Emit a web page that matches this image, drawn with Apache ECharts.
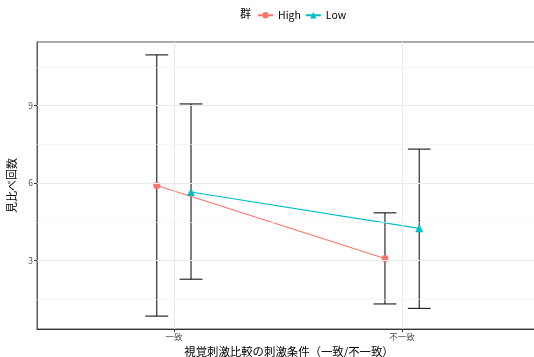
<!DOCTYPE html>
<html><head><meta charset="utf-8">
<script src="https://cdn.jsdelivr.net/npm/echarts@6/dist/echarts.min.js"></script>
<style>html,body{margin:0;padding:0;background:#fff}#c{width:534px;height:357px}</style>
</head><body><div id="c"></div>
<script>
const categories = ['一致', '不一致'];
const groups = ['High', 'Low'];
const highMean = [5.91, 3.08];
const highLower = [0.85, 1.32];
const highUpper = [10.97, 4.85];
const lowMean = [5.66, 4.25];
const lowLower = [2.28, 1.15];
const lowUpper = [9.07, 7.32];
const yTicks = [3, 6, 9];
const yMinor = [1.5, 4.5, 7.5, 10.5];

const dodge = 0.075;
const FONT = '"Noto Sans CJK JP", "Noto Sans", sans-serif';
const colors = {High: '#F8766D', Low: '#00BFC4'};

function pts(means, off) { return means.map((m, i) => [i + 1 + off, m]); }
function bars(lo, hi, off) { return lo.map((l, i) => [i + 1 + off, l, hi[i]]); }

const chart = echarts.init(document.getElementById('c'));
const gridLines = [];
yMinor.forEach(v => gridLines.push({yAxis: v, lineStyle: {color: '#F2F2F2', width: 0.6, type: 'solid'}}));
yTicks.forEach(v => gridLines.push({yAxis: v, lineStyle: {color: '#EBEBEB', width: 1.1, type: 'solid'}}));
categories.forEach((c, i) => gridLines.push({xAxis: i + 1, lineStyle: {color: '#EBEBEB', width: 1.1, type: 'solid'}}));

function errRender(params, api) {
  const x = api.value(0);
  const lo = api.coord([x, api.value(1)]);
  const hi = api.coord([x, api.value(2)]);
  const hw = api.size([0.05, 0])[0];
  const st = {stroke: '#000', lineWidth: 1, fill: null};
  return {type: 'group', children: [
    {type: 'line', shape: {x1: hi[0], y1: hi[1], x2: lo[0], y2: lo[1]}, style: st},
    {type: 'line', shape: {x1: hi[0] - hw, y1: hi[1], x2: hi[0] + hw, y2: hi[1]}, style: st},
    {type: 'line', shape: {x1: lo[0] - hw, y1: lo[1], x2: lo[0] + hw, y2: lo[1]}, style: st}
  ]};
}

chart.setOption({
  animation: false,
  textStyle: {fontFamily: FONT},
  title: {text: '群', left: 240, top: 8, padding: 0, textStyle: {fontSize: 11, fontWeight: 'normal', color: '#000', fontFamily: FONT}},
  legend: {
    data: groups, left: 257, top: 10, padding: 0, itemWidth: 15, itemHeight: 8, itemGap: 4,
    textStyle: {fontSize: 10.5, color: '#000', fontFamily: FONT}
  },
  grid: {left: 37, right: -5, top: 42, bottom: 28, show: true, borderColor: '#595959', borderWidth: 1,
    containLabel: false, outerBoundsMode: 'none'},
  xAxis: {
    type: 'value', min: 0.4, max: 2.6,
    name: '視覚刺激比較の刺激条件（一致/不一致）', nameLocation: 'middle', nameGap: 17,
    nameTextStyle: {fontSize: 11.4, color: '#000', fontFamily: FONT, padding: [0, 0, 0, 2]},
    axisLine: {show: true, onZero: false, lineStyle: {color: '#333', width: 1.2}},
    axisTick: {show: true, length: 3, lineStyle: {color: '#333'}, customValues: [1, 2]},
    axisLabel: {fontSize: 8.5, color: '#4D4D4D', margin: 4, customValues: [1, 2],
      formatter: v => categories[Math.round(v) - 1] || ''},
    splitLine: {show: false}
  },
  yAxis: {
    type: 'value', min: 0.35, max: 11.47,
    name: '見比べ回数', nameLocation: 'middle', nameGap: 16, nameRotate: 90,
    nameTextStyle: {fontSize: 11, color: '#000', fontFamily: FONT},
    axisLine: {show: true, onZero: false, lineStyle: {color: '#595959', width: 1}},
    axisTick: {show: true, length: 3, lineStyle: {color: '#333'}, customValues: yTicks},
    axisLabel: {fontSize: 8.5, color: '#4D4D4D', margin: 4, customValues: yTicks},
    splitLine: {show: false}
  },
  series: [
    {type: 'line', data: [], silent: true, markLine: {silent: true, symbol: 'none', label: {show: false}, data: gridLines}, z: 0},
    {type: 'custom', renderItem: errRender, data: bars(highLower, highUpper, -dodge), z: 2, silent: true},
    {type: 'custom', renderItem: errRender, data: bars(lowLower, lowUpper, dodge), z: 2, silent: true},
    {name: 'High', type: 'line', data: pts(highMean, -dodge), symbol: 'circle', symbolSize: 7,
      itemStyle: {color: colors.High}, lineStyle: {color: colors.High, width: 1.1}, z: 3},
    {name: 'Low', type: 'line', data: pts(lowMean, dodge), symbol: 'triangle', symbolSize: 8,
      itemStyle: {color: colors.Low}, lineStyle: {color: colors.Low, width: 1.1}, z: 3}
  ]
});
</script></body></html>
